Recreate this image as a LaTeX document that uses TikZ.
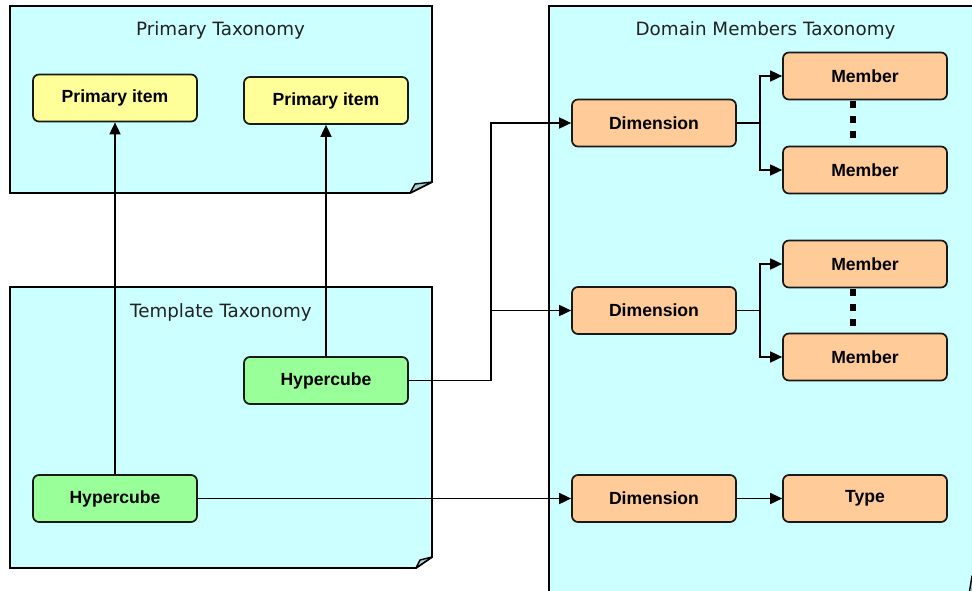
\documentclass[tikz,border=0pt]{standalone}
\usepackage{fontspec}
\setmainfont{Liberation Sans}
\newfontfamily\titlefont{DejaVu Sans}
\usetikzlibrary{arrows.meta}
\definecolor{panelcol}{HTML}{CCFFFF}
\definecolor{flapcol}{HTML}{A3CFCF}
\definecolor{itemcol}{HTML}{FFFF99}
\definecolor{cubecol}{HTML}{99FF99}
\definecolor{dimcol}{HTML}{FFCC99}
\definecolor{titlecol}{HTML}{222222}
\begin{document}
\begin{tikzpicture}[x=1pt,y=-1pt,
  panel/.style={draw=black, line width=1.8pt, fill=panelcol, line join=miter},
  flap/.style={draw=black, line width=1.4pt, fill=flapcol, line join=round},
  paneltitle/.style={font=\titlefont\fontsize{18.3}{22}\selectfont, text=titlecol, inner sep=0pt},
  box/.style={draw=black!90, line width=1.7pt, rounded corners=6pt,
    minimum width=164pt, minimum height=47pt, inner sep=0pt,
    font=\fontsize{17.6}{20}\selectfont\bfseries},
  item/.style={box, fill=itemcol},
  cube/.style={box, fill=cubecol},
  dimbox/.style={box, fill=dimcol},
  link/.style={line width=1.7pt},
  arr/.style={link, -{Triangle[length=12pt,width=11pt]}}]
\useasboundingbox (0,0) rectangle (972,590);
\clip (0,0) rectangle (972,590);

% folded-corner panels
\draw[panel] (10,6) -- (432,6) -- (432,182) -- (410,193) -- (10,193) -- cycle;
\draw[flap] (410,193) -- (415,184) -- (432,182) -- cycle;
\draw[panel] (10,287) -- (432,287) -- (432,557) -- (416,568) -- (10,568) -- cycle;
\draw[flap] (416,568) -- (420,560) -- (432,557) -- cycle;
\draw[panel] (549,6) -- (995,6) -- (995,585) -- (968,600) -- (549,600) -- cycle;
\draw[flap] (968,600) -- (972,576) -- (995,585) -- cycle;

% panel titles
\node[paneltitle] (tprim) at (220.5,30) {Primary Taxonomy};
\node[paneltitle] (ttmpl) at (221,312) {Template Taxonomy};
\node[paneltitle] (tdom) at (765.5,30) {Domain Members Taxonomy};

% boxes
\node[item] (pi1) at (115,98) {Primary item};
\node[item] (pi2) at (326,100.5) {Primary item};
\node[cube] (hc2) at (326,380.5) {Hypercube};
\node[cube] (hc1) at (115,498.5) {Hypercube};
\node[dimbox] (dim1) at (654,123) {Dimension};
\node[dimbox] (dim2) at (654,310.5) {Dimension};
\node[dimbox] (dim3) at (654,498.5) {Dimension};
\node[dimbox] (mem1) at (865,76) {Member};
\node[dimbox] (mem2) at (865,170) {Member};
\node[dimbox] (mem3) at (865,264) {Member};
\node[dimbox] (mem4) at (865,357) {Member};
\node[dimbox] (type) at (865,498.5) {Type};

% hypercubes to primary items
\draw[arr] (hc1.north) -- (pi1.south);
\draw[arr] (hc2.north) -- (pi2.south);

% hypercubes to dimensions
\draw[link] (hc2.east) -- ++(82,0) coordinate (hj);
\draw[arr] (hj) |- (dim1.west);
\draw[arr] (hj |- dim2.west) -- (dim2.west);
\draw[arr] (hc1.east) -- (dim3.west);

% dimensions to members
\draw[link] (dim1.east) -- ++(23,0) coordinate (j1);
\draw[arr] (j1) |- (mem1.west);
\draw[arr] (j1) |- (mem2.west);
\draw[link] (dim2.east) -- ++(23,0) coordinate (j2);
\draw[arr] (j2) |- (mem3.west);
\draw[arr] (j2) |- (mem4.west);
\draw[arr] (dim3.east) -- (type.west);

% elided members
\draw[line width=6.5pt, dash pattern=on 7pt off 8pt]
  ([xshift=-12pt,yshift=-1pt]mem1.south) -- ([xshift=-12pt]mem2.north);
\draw[line width=6.5pt, dash pattern=on 7pt off 8pt]
  ([xshift=-12pt,yshift=-1pt]mem3.south) -- ([xshift=-12pt]mem4.north);
\end{tikzpicture}
\end{document}
